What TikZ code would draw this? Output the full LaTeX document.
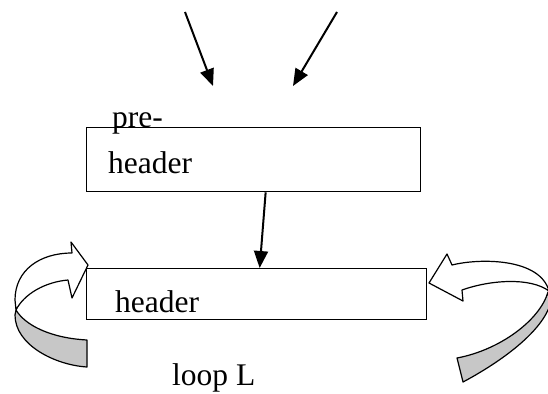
\documentclass[tikz,border=0pt]{standalone}
\usepackage{fontspec}
\setmainfont{Liberation Serif}
\usetikzlibrary{scopes,arrows.meta}

\tikzset{
  box/.style={draw, line width=1.3pt, anchor=north west, inner sep=0pt},
  lbl/.style={inner sep=0pt, anchor=base west, font=\fontsize{31.5}{40}\selectfont},
  flow/.style={line width=2pt, -{Triangle[length=17pt,width=14pt]}},
  band/.style={draw, line width=1.2pt, line join=round}
}

\begin{document}
\begin{tikzpicture}[x=1pt, y=-1pt]
  \useasboundingbox (0,0) rectangle (548,393);
  \node[box, minimum width=334pt, minimum height=64pt] (preheader) at (86,127) {};
  \node[box, minimum width=340pt, minimum height=51pt] (header) at (86,268) {};
  \node[lbl] (pretxt) at (112,128) {pre-};
  \node[lbl] (prehead) at (108,173) {header};
  \node[lbl] (headtxt) at (115,312) {header};
  \node[lbl] (looptxt) at (172,385) {loop L};
  \coordinate (inl) at (185,12);
  \coordinate (inlend) at (213,86);
  \coordinate (inr) at (337,12);
  \coordinate (inrend) at (293,86);
  { [flow]
    \draw (inl) -- (inlend);
    \draw (inr) -- (inrend);
    \draw ([xshift=12pt]preheader.south) -- ([xshift=3pt]header.north);
  }
  { [band]
    \draw[fill=black!22] (16,310) .. controls (25,325) and (50,338) .. (87,340)
      -- (87,367) .. controls (55,365) and (15,345) .. (15,315) -- cycle;
    \draw[fill=white] (16,310) .. controls (24,294) and (45,282) .. (68,280)
      -- (72,298) -- (88,265) -- (71,242) -- (72,253)
      .. controls (40,253) and (15,270) .. (15,300) -- cycle;
    \draw[fill=black!22] (548,292) .. controls (540,320) and (500,350) .. (457,358)
      -- (463,382) .. controls (495,365) and (540,335) .. (550,305) -- cycle;
    \draw[fill=white] (429,283) -- (447,254) -- (452,265)
      .. controls (480,258) and (540,258) .. (549,291)
      .. controls (530,277) and (490,280) .. (462,290)
      -- (463,301) -- cycle;
  }
\end{tikzpicture}
\end{document}
